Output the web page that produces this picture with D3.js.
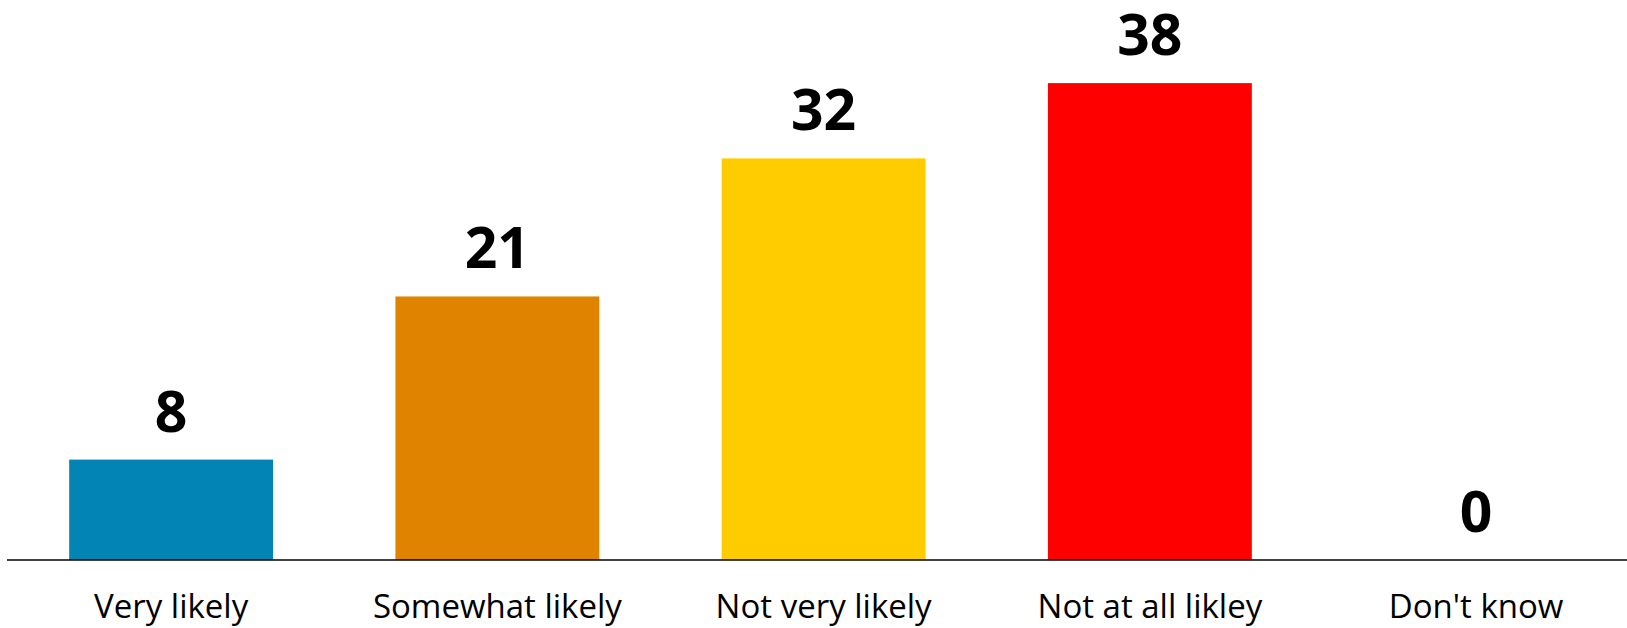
<!DOCTYPE html>
<html>
<head>
<meta charset="utf-8">
<script src="https://cdn.jsdelivr.net/npm/d3@7"></script>
<style>
  html, body { margin: 0; padding: 0; background: #ffffff; }
  svg { display: block; }
</style>
</head>
<body>
<svg id="chart" width="1627" height="628"></svg>
<script>
const categories = ["Very likely", "Somewhat likely", "Not very likely", "Not at all likley", "Don't know"];
const values = [8, 21, 32, 38, 0];
const colors = ["#0285b5", "#df8300", "#ffcc00", "#ff0000", "#7f7f7f"];

const W = 1627, H = 628;
const svg = d3.select("#chart");

const x = d3.scaleBand()
  .domain(categories)
  .range([8, 1639.25])
  .paddingInner(0.375)
  .paddingOuter(0.1875);

const y = d3.scaleLinear()
  .domain([0, 40])
  .range([560, 58]);

svg.selectAll("rect.bar")
  .data(categories)
  .join("rect")
  .attr("class", "bar")
  .attr("x", d => x(d))
  .attr("width", x.bandwidth())
  .attr("y", (d, i) => y(values[i]))
  .attr("height", (d, i) => y(0) - y(values[i]))
  .attr("fill", (d, i) => colors[i]);

// value labels
svg.selectAll("text.val")
  .data(categories)
  .join("text")
  .attr("class", "val")
  .attr("x", d => x(d) + x.bandwidth() / 2)
  .attr("y", (d, i) => y(values[i]) - 28)
  .attr("text-anchor", "middle")
  .attr("font-family", "'Open Sans', sans-serif")
  .attr("font-weight", "bold")
  .attr("font-size", 57)
  .attr("fill", "#000")
  .text((d, i) => values[i]);

// x axis
const xAxis = d3.axisBottom(x).tickSize(0).tickPadding(0);
const gx = svg.append("g").attr("transform", `translate(0,${y(0)})`).call(xAxis);
gx.select(".domain").remove();
gx.selectAll("text")
  .attr("dy", null)
  .attr("y", 58)
  .attr("font-family", "'Open Sans', sans-serif")
  .attr("font-size", 33)
  .attr("fill", "#000");

svg.append("line")
  .attr("x1", 7).attr("x2", W)
  .attr("y1", y(0)).attr("y2", y(0))
  .attr("stroke", "#000")
  .attr("stroke-width", 1.5);
</script>
</body>
</html>
